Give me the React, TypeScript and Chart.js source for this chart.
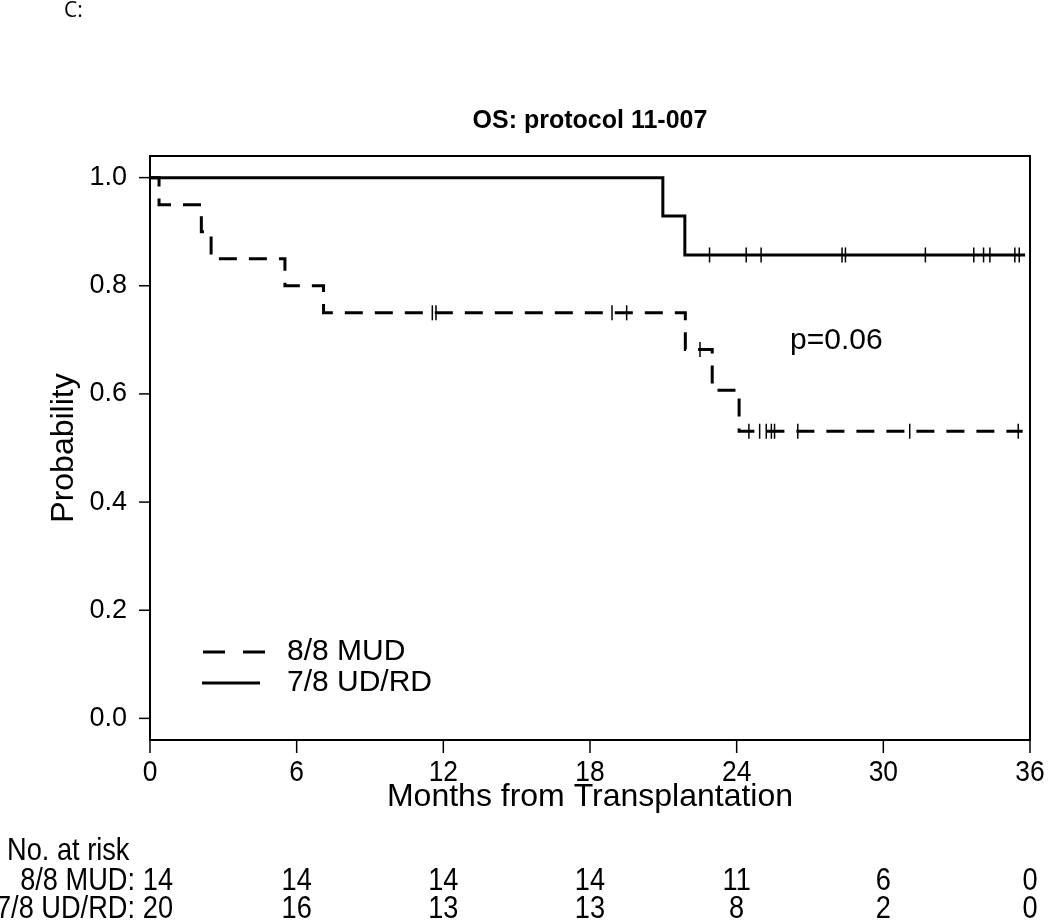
import React, { useEffect, useRef } from 'react';
import { Chart, registerables } from 'chart.js';

Chart.register(...registerables);

// ---- data ----
const groupNames = ['8/8 MUD', '7/8 UD/RD'];
const mudTimes = [0, 0.37, 2.1, 2.5, 5.52, 7.1, 21.9, 23.0, 24.1, 35.7];
const mudSurv = [1, 0.95, 0.9, 0.85, 0.8, 0.75, 0.682, 0.607, 0.531, 0.531];
const udTimes = [0, 20.98, 21.88, 35.8];
const udSurv = [1, 0.929, 0.857, 0.857];
const mudCensor = [11.55, 11.7, 18.9, 19.5, 22.5, 24.5, 24.94, 25.21, 25.42, 25.55, 26.5, 31.08, 35.52];
const udCensor = [22.89, 24.39, 25.0, 28.31, 28.45, 31.72, 33.7, 34.1, 34.36, 35.38, 35.56];
const xTicks = [0, 6, 12, 18, 24, 30, 36];
const xTickLabels = ['0', '6', '12', '18', '24', '30', '36'];
const yTicks = [0, 0.2, 0.4, 0.6, 0.8, 1.0];
const yTickLabels = ['0.0', '0.2', '0.4', '0.6', '0.8', '1.0'];
const riskMud = [14, 14, 14, 14, 11, 6, 0];
const riskUd = [20, 16, 13, 13, 8, 2, 0];
const titleText = 'OS: protocol 11-007';
const xTitle = 'Months from Transplantation';
const yTitle = 'Probability';
const pText = 'p=0.06';
const panelLabel = 'C:';

function survAt(times: number[], surv: number[], t: number) {
  let v = surv[0];
  for (let i = 0; i < times.length; i++) if (times[i] <= t) v = surv[i];
  return v;
}

const FONT = '"Liberation Sans", Arial, Helvetica, sans-serif';

function txt(ctx: CanvasRenderingContext2D, s: string, x: number, y: number, align: CanvasTextAlign, sx = 1) {
  ctx.save();
  ctx.translate(x, y);
  ctx.scale(sx, 1);
  ctx.textAlign = align;
  ctx.fillText(s, 0, 0);
  ctx.restore();
}

const decor = {
  id: 'decor',
  afterDraw(chart: any) {
    const ctx: CanvasRenderingContext2D = chart.ctx;
    const { left, right, top, bottom } = chart.chartArea;
    const xs = chart.scales.x;
    const ys = chart.scales.y;
    ctx.save();
    ctx.strokeStyle = '#000';
    ctx.fillStyle = '#000';
    ctx.setLineDash([]);
    // box
    ctx.lineWidth = 2;
    ctx.strokeRect(left, top, right - left, bottom - top);
    // y ticks
    ctx.lineWidth = 1.5;
    ctx.textBaseline = 'middle';
    ctx.font = `27px ${FONT}`;
    yTicks.forEach((v, i) => {
      const y = ys.getPixelForValue(v);
      ctx.beginPath();
      ctx.moveTo(left - 11, y);
      ctx.lineTo(left, y);
      ctx.stroke();
      txt(ctx, yTickLabels[i], 127, y, 'right');
    });
    // x ticks
    ctx.font = `30px ${FONT}`;
    xTicks.forEach((v, i) => {
      const x = xs.getPixelForValue(v);
      ctx.beginPath();
      ctx.moveTo(x, bottom);
      ctx.lineTo(x, bottom + 13);
      ctx.stroke();
      txt(ctx, xTickLabels[i], x, 773, 'center', 0.88);
    });
    // axis titles
    ctx.font = `32px ${FONT}`;
    txt(ctx, xTitle, (left + right) / 2, 797, 'center');
    ctx.save();
    ctx.translate(64, (top + bottom) / 2);
    ctx.rotate(-Math.PI / 2);
    ctx.textAlign = 'center';
    ctx.fillText(yTitle, 0, 0);
    ctx.restore();
    // title
    ctx.font = `bold 25px ${FONT}`;
    txt(ctx, titleText, (left + right) / 2, 121, 'center');
    // panel label
    ctx.font = `21px "Open Sans", "Noto Sans", sans-serif`;
    txt(ctx, panelLabel, 64, 11, 'left');
    // p-value
    ctx.font = `30px ${FONT}`;
    txt(ctx, pText, 790, 341, 'left');
    // legend
    const ds = chart.data.datasets;
    ctx.lineWidth = 3;
    ctx.setLineDash([22, 18]);
    ctx.beginPath();
    ctx.moveTo(203, 652);
    ctx.lineTo(265, 652);
    ctx.stroke();
    ctx.setLineDash([]);
    ctx.beginPath();
    ctx.moveTo(202, 683);
    ctx.lineTo(260, 683);
    ctx.stroke();
    ctx.font = `30px ${FONT}`;
    txt(ctx, ds[0].label, 287, 652, 'left');
    txt(ctx, ds[1].label, 287, 683, 'left');
    // at-risk table
    ctx.font = `32px ${FONT}`;
    txt(ctx, 'No. at risk', 7, 851, 'left', 0.85);
    txt(ctx, groupNames[0] + ':', 135, 881, 'right', 0.85);
    txt(ctx, groupNames[1] + ':', 135, 909, 'right', 0.85);
    xTicks.forEach((v, i) => {
      const x = xs.getPixelForValue(v) + (i === 0 ? 8 : 0);
      txt(ctx, String(riskMud[i]), x, 881, 'center', 0.85);
      txt(ctx, String(riskUd[i]), x, 909, 'center', 0.85);
    });
    ctx.restore();
  },
};

export default function App() {
  const ref = useRef<HTMLCanvasElement | null>(null);
  useEffect(() => {
    document.body.style.margin = '0';
    const canvas = ref.current!;
    const censorStyle = {
      showLine: false,
      pointStyle: 'line',
      rotation: 90,
      pointRadius: 7.5,
      pointBorderWidth: 1.5,
      pointBorderColor: '#000',
      borderColor: '#000',
      borderWidth: 1.5,
    };
    const chart = new Chart(canvas, {
      type: 'line',
      data: {
        datasets: [
          {
            label: groupNames[0],
            data: mudTimes.map((t, i) => ({ x: t, y: mudSurv[i] })),
            stepped: 'before',
            borderColor: '#000',
            borderWidth: 3,
            borderDash: [18, 12],
            pointRadius: 0,
            fill: false,
          },
          {
            label: groupNames[1],
            data: udTimes.map((t, i) => ({ x: t, y: udSurv[i] })),
            stepped: 'before',
            borderColor: '#000',
            borderWidth: 3,
            pointRadius: 0,
            fill: false,
          },
          {
            label: 'censor1',
            data: mudCensor.map((t) => ({ x: t, y: survAt(mudTimes, mudSurv, t) })),
            ...censorStyle,
          },
          {
            label: 'censor2',
            data: udCensor.map((t) => ({ x: t, y: survAt(udTimes, udSurv, t) })),
            ...censorStyle,
          },
        ] as any,
      },
      options: {
        responsive: false,
        animation: false,
        layout: { padding: { left: 150, top: 156, right: 20, bottom: 181 } },
        scales: {
          x: { type: 'linear', min: 0, max: 36, display: false },
          y: { type: 'linear', min: -0.04, max: 1.04, display: false },
        },
        plugins: { legend: { display: false }, tooltip: { enabled: false } },
      },
      plugins: [decor],
    });
    return () => chart.destroy();
  }, []);
  return (
    <div style={{ width: 1050, height: 921, background: '#fff' }}>
      <canvas ref={ref} width={1050} height={921} style={{ display: 'block' }} />
    </div>
  );
}
